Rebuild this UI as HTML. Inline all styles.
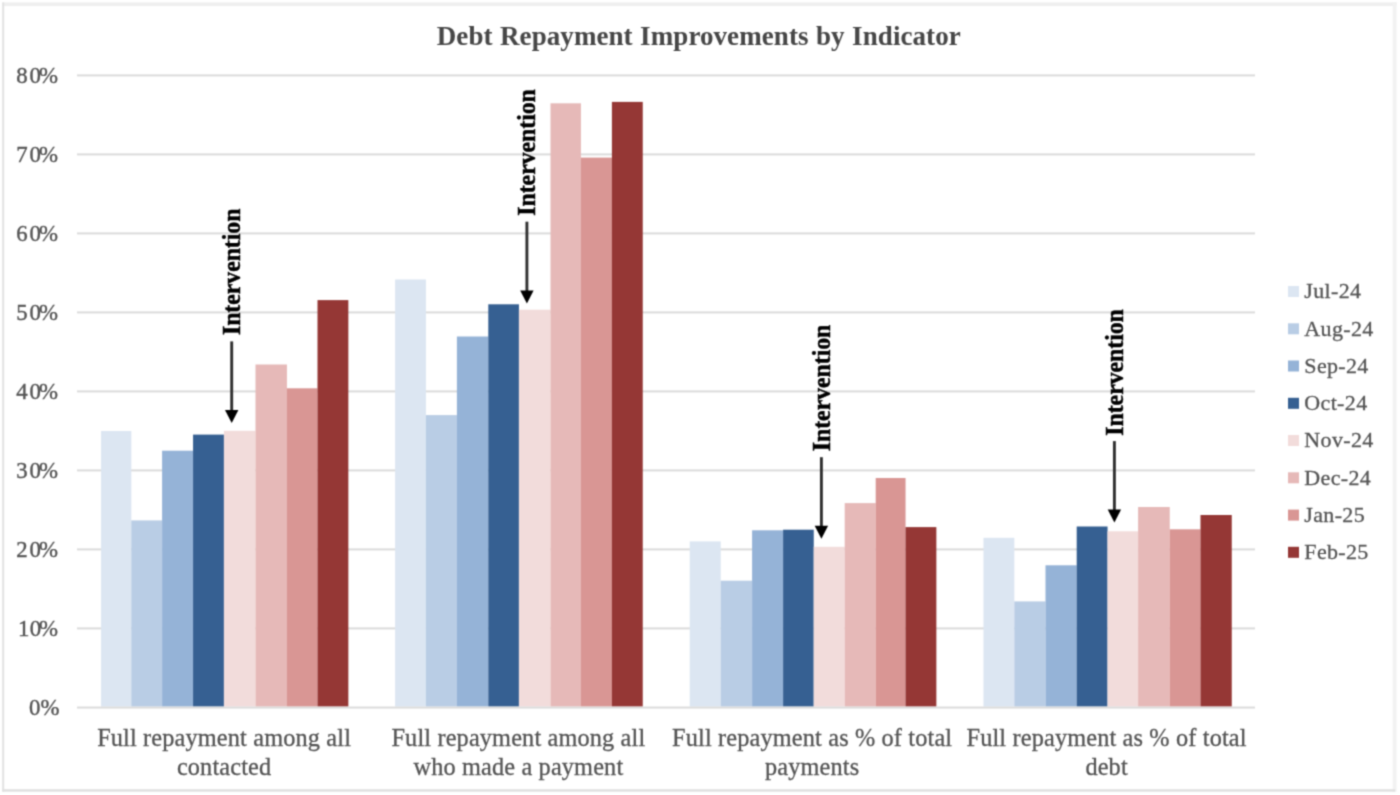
<!DOCTYPE html>
<html lang="en"><head><meta charset="utf-8"><title>Debt Repayment Improvements by Indicator</title>
<style>
html,body{margin:0;padding:0;background:#fff;}
body{width:1400px;height:795px;overflow:hidden;position:relative;font-family:"Liberation Serif","Times New Roman",serif;}
svg{position:absolute;left:0;top:0;display:block;}
text{font-family:"Liberation Serif","Times New Roman",serif;}
.ax{font-size:22.8px;fill:#545454;stroke:#545454;stroke-width:0.4px;}
.cat{font-size:24.3px;fill:#545454;stroke:#545454;stroke-width:0.3px;letter-spacing:0.15px;}
.leg text{font-size:22px;fill:#545454;stroke:#545454;stroke-width:0.3px;letter-spacing:0.35px;}
.ttl{font-size:27px;font-weight:bold;fill:#474747;word-spacing:0.6px;letter-spacing:0.08px;}
.iv{font-size:24.9px;font-weight:bold;fill:#000;stroke:#000;stroke-width:0.45px;}
</style></head><body>
<svg width="1400" height="795" viewBox="0 0 1400 795">
<defs><filter id="soft" x="0" y="0" width="1400" height="795" filterUnits="userSpaceOnUse" color-interpolation-filters="sRGB"><feConvolveMatrix order="3" kernelMatrix="0.0400 0.1200 0.0400 0.1200 0.3600 0.1200 0.0400 0.1200 0.0400" edgeMode="duplicate" preserveAlpha="true"/></filter></defs>
<g filter="url(#soft)">
<rect x="0" y="0" width="1400" height="795" fill="#ffffff"/>

<g id="frame">
<rect x="2.3" y="2.4" width="1394.4" height="3.7" fill="#efefef"/>
<rect x="1392.7" y="2.4" width="3.9" height="789.3" fill="#f2f2f2"/>
<rect x="2.2" y="2.4" width="2.0" height="789.3" fill="#e2e2e2"/>
<rect x="2.3" y="789.2" width="1393" height="2.5" fill="#e0e0e0"/>
</g>
<g id="grid" fill="#dbdbdb">
<rect x="77" y="627.40" width="1178" height="2"/>
<rect x="77" y="548.40" width="1178" height="2"/>
<rect x="77" y="469.40" width="1178" height="2"/>
<rect x="77" y="390.40" width="1178" height="2"/>
<rect x="77" y="311.40" width="1178" height="2"/>
<rect x="77" y="232.40" width="1178" height="2"/>
<rect x="77" y="153.40" width="1178" height="2"/>
<rect x="77" y="74.40" width="1178" height="2"/>
</g>
<g id="bars">
<rect x="101.07" y="431.0" width="30.24" height="275.6" fill="#dce6f2"/>
<rect x="131.26" y="520.4" width="30.89" height="186.2" fill="#b9cde5"/>
<rect x="162.10" y="450.7" width="31.01" height="255.9" fill="#95b3d7"/>
<rect x="193.06" y="434.6" width="30.89" height="272.0" fill="#366092"/>
<rect x="223.90" y="430.8" width="31.65" height="275.8" fill="#f2dcdb"/>
<rect x="255.50" y="364.5" width="31.45" height="342.1" fill="#e6b9b8"/>
<rect x="286.90" y="388.3" width="30.65" height="318.3" fill="#d99694"/>
<rect x="317.50" y="300.1" width="30.85" height="406.5" fill="#953735"/>
<rect x="395.10" y="279.5" width="30.85" height="427.1" fill="#dce6f2"/>
<rect x="425.90" y="415.1" width="31.05" height="291.5" fill="#b9cde5"/>
<rect x="456.90" y="336.5" width="31.45" height="370.1" fill="#95b3d7"/>
<rect x="488.30" y="304.3" width="30.65" height="402.3" fill="#366092"/>
<rect x="518.90" y="309.7" width="31.65" height="396.9" fill="#f2dcdb"/>
<rect x="550.50" y="103.3" width="30.45" height="603.3" fill="#e6b9b8"/>
<rect x="580.90" y="157.6" width="31.05" height="549.0" fill="#d99694"/>
<rect x="611.90" y="101.9" width="30.85" height="604.7" fill="#953735"/>
<rect x="689.70" y="541.4" width="31.05" height="165.2" fill="#dce6f2"/>
<rect x="720.70" y="580.7" width="31.45" height="125.9" fill="#b9cde5"/>
<rect x="752.10" y="530.3" width="31.05" height="176.3" fill="#95b3d7"/>
<rect x="783.10" y="529.7" width="30.65" height="176.9" fill="#366092"/>
<rect x="813.70" y="546.8" width="31.05" height="159.8" fill="#f2dcdb"/>
<rect x="844.70" y="503.1" width="31.05" height="203.5" fill="#e6b9b8"/>
<rect x="875.70" y="478.0" width="29.85" height="228.6" fill="#d99694"/>
<rect x="905.50" y="527.1" width="30.85" height="179.5" fill="#953735"/>
<rect x="983.50" y="537.8" width="30.85" height="168.8" fill="#dce6f2"/>
<rect x="1014.30" y="601.4" width="31.25" height="105.2" fill="#b9cde5"/>
<rect x="1045.50" y="565.3" width="31.25" height="141.3" fill="#95b3d7"/>
<rect x="1076.70" y="526.5" width="30.85" height="180.1" fill="#366092"/>
<rect x="1107.50" y="531.3" width="30.65" height="175.3" fill="#f2dcdb"/>
<rect x="1138.10" y="507.0" width="31.65" height="199.6" fill="#e6b9b8"/>
<rect x="1169.70" y="529.3" width="30.85" height="177.3" fill="#d99694"/>
<rect x="1200.50" y="515.0" width="31.25" height="191.6" fill="#953735"/>
</g>
<rect x="77" y="706.55" width="1178" height="2" fill="#dbdbdb"/>
<g id="ylabels" class="ax" text-anchor="end">
<text x="59.6" y="715.0">0<tspan dx="0.3">%</tspan></text>
<text x="58.1" y="636.0">1<tspan dx="0.3">0</tspan><tspan dx="-2.0">%</tspan></text>
<text x="57.9" y="557.0">2<tspan dx="1.8">0</tspan><tspan dx="-2.0">%</tspan></text>
<text x="57.9" y="478.0">3<tspan dx="1.8">0</tspan><tspan dx="-2.0">%</tspan></text>
<text x="57.9" y="399.0">4<tspan dx="1.8">0</tspan><tspan dx="-2.0">%</tspan></text>
<text x="57.9" y="320.0">5<tspan dx="1.8">0</tspan><tspan dx="-2.0">%</tspan></text>
<text x="57.9" y="241.0">6<tspan dx="1.8">0</tspan><tspan dx="-2.0">%</tspan></text>
<text x="57.9" y="162.0">7<tspan dx="1.8">0</tspan><tspan dx="-2.0">%</tspan></text>
<text x="57.9" y="83.0">8<tspan dx="1.8">0</tspan><tspan dx="-2.0">%</tspan></text>
</g>
<text class="ttl" x="698.8" y="45.3" text-anchor="middle">Debt Repayment Improvements by Indicator</text>
<g id="cats" class="cat" text-anchor="middle">
<text x="224.1" y="745.8">Full repayment among all</text><text x="224.1" y="774.7">contacted</text>
<text x="518.4" y="745.8">Full repayment among all</text><text x="518.4" y="774.7">who made a payment</text>
<text x="812.2" y="745.8">Full repayment as % of total</text><text x="812.2" y="774.7">payments</text>
<text x="1106.6" y="745.8">Full repayment as % of total</text><text x="1106.6" y="774.7">debt</text>
</g>
<g id="legend" class="leg">
<rect x="1288" y="286.0" width="11" height="11" fill="#dce6f2"/><text x="1304.3" y="298.2">Jul-24</text>
<rect x="1288" y="323.3" width="11" height="11" fill="#b9cde5"/><text x="1304.3" y="335.5">Aug-24</text>
<rect x="1288" y="360.5" width="11" height="11" fill="#95b3d7"/><text x="1304.3" y="372.7">Sep-24</text>
<rect x="1288" y="397.8" width="11" height="11" fill="#366092"/><text x="1304.3" y="410.0">Oct-24</text>
<rect x="1288" y="435.0" width="11" height="11" fill="#f2dcdb"/><text x="1304.3" y="447.2">Nov-24</text>
<rect x="1288" y="472.3" width="11" height="11" fill="#e6b9b8"/><text x="1304.3" y="484.5">Dec-24</text>
<rect x="1288" y="509.6" width="11" height="11" fill="#d99694"/><text x="1304.3" y="521.8">Jan-25</text>
<rect x="1288" y="546.8" width="11" height="11" fill="#953735"/><text x="1304.3" y="559.0">Feb-25</text>
</g>
<g id="arrows">
<rect x="230.25" y="341.4" width="2.9" height="73.7" fill="#303030"/>
<path d="M225.0 410.1 L238.4 410.1 L231.7 423.1 Z" fill="#000"/>
<text class="iv" transform="translate(239.7,335.1) rotate(-90) scale(0.953,1)" x="0" y="0">Intervention</text>
<rect x="525.45" y="221.7" width="2.9" height="73.8" fill="#303030"/>
<path d="M520.2 290.5 L533.6 290.5 L526.9 303.5 Z" fill="#000"/>
<text class="iv" transform="translate(535.2,215.7) rotate(-90) scale(0.953,1)" x="0" y="0">Intervention</text>
<rect x="819.95" y="457.2" width="2.9" height="73.6" fill="#303030"/>
<path d="M814.7 525.8 L828.1 525.8 L821.4 538.8 Z" fill="#000"/>
<text class="iv" transform="translate(829.7,451.2) rotate(-90) scale(0.953,1)" x="0" y="0">Intervention</text>
<rect x="1112.95" y="441.1" width="2.9" height="73.3" fill="#303030"/>
<path d="M1107.7 509.4 L1121.1 509.4 L1114.4 522.4 Z" fill="#000"/>
<text class="iv" transform="translate(1123.0,435.7) rotate(-90) scale(0.953,1)" x="0" y="0">Intervention</text>
</g>
</g>
</svg>
</body></html>
